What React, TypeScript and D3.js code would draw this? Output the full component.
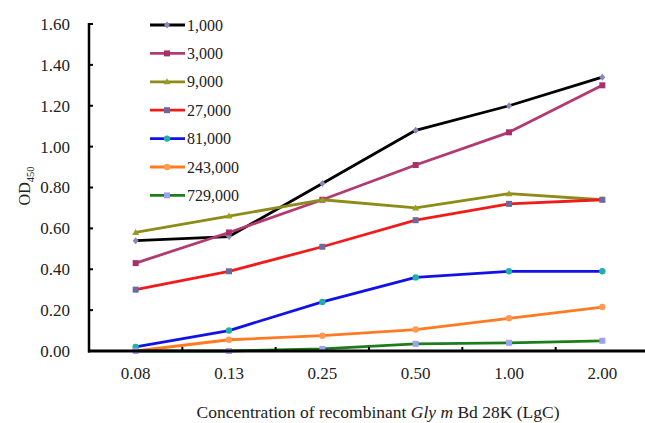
import React from "react";
import * as d3 from "d3";

const categories = ["0.08", "0.13", "0.25", "0.50", "1.00", "2.00"];
const seriesNames = ["1,000", "3,000", "9,000", "27,000", "81,000", "243,000", "729,000"];
const s1000 = [0.54, 0.56, 0.82, 1.08, 1.2, 1.34];
const s3000 = [0.43, 0.58, 0.74, 0.91, 1.07, 1.3];
const s9000 = [0.58, 0.66, 0.74, 0.7, 0.77, 0.74];
const s27000 = [0.3, 0.39, 0.51, 0.64, 0.72, 0.74];
const s81000 = [0.02, 0.1, 0.24, 0.36, 0.39, 0.39];
const s243000 = [0.0, 0.055, 0.075, 0.105, 0.16, 0.215];
const s729000 = [0.0, 0.0, 0.01, 0.035, 0.04, 0.05];
const yTicks = [0, 0.2, 0.4, 0.6, 0.8, 1.0, 1.2, 1.4, 1.6];

const seriesValues = [s1000, s3000, s9000, s27000, s81000, s243000, s729000];
const lineColors = ["#000000", "#b23a72", "#8e8c18", "#f01c1c", "#1212e6", "#ff7a22", "#1d7d1d"];
const markerColors = ["#8a88b8", "#a8306a", "#9a9a20", "#6a6a9e", "#20b0a8", "#ff9a50", "#a0a0f0"];
const markerShapes = ["diamond", "square", "triangle", "square", "circle", "circle", "square"];

const W = 645;
const H = 423;
const left = 89;
const right = 649;
const top = 24;
const bottom = 351;
const font = "'Liberation Serif', 'Times New Roman', serif";

function Marker({ shape, x, y, fill }: { shape: string; x: number; y: number; fill: string }) {
  const s = 3;
  if (shape === "square") return <rect x={x - s} y={y - s} width={2 * s} height={2 * s} fill={fill} />;
  if (shape === "circle") return <circle cx={x} cy={y} r={3.2} fill={fill} />;
  if (shape === "triangle")
    return <path d={`M${x},${y - 3.5}L${x + 3.5},${y + 2.5}L${x - 3.5},${y + 2.5}Z`} fill={fill} />;
  return <path d={`M${x},${y - 3.5}L${x + 3},${y}L${x},${y + 3.5}L${x - 3},${y}Z`} fill={fill} />;
}

export default function App() {
  const x = d3.scaleBand<string>().domain(categories).range([left, right]);
  const y = d3.scaleLinear().domain([0, 1.6]).range([bottom, top]);
  const cx = (c: string) => (x(c) as number) + x.bandwidth() / 2;
  const line = d3
    .line<number>()
    .x((_, i) => cx(categories[i]))
    .y((v) => y(v));

  const legendX = 150;
  const legendY0 = 25;
  const legendStep = 28.4;

  return (
    <svg width={W} height={H} style={{ position: "absolute", left: 0, top: 0, background: "#fff" }}>
      {seriesValues.map((vals, si) => (
        <g key={si}>
          <path d={line(vals) as string} fill="none" stroke={lineColors[si]} strokeWidth={2.8} strokeLinejoin="round" />
          {vals.map((v, i) => (
            <Marker key={i} shape={markerShapes[si]} x={cx(categories[i])} y={y(v)} fill={markerColors[si]} />
          ))}
        </g>
      ))}
      <line x1={left} y1={top - 1} x2={left} y2={bottom + 1.5} stroke="#000" strokeWidth={2.5} />
      <line x1={left - 1} y1={bottom} x2={right} y2={bottom} stroke="#000" strokeWidth={2.8} />
      {yTicks.map((t) => (
        <g key={t}>
          <line x1={left} x2={left + 4} y1={y(t)} y2={y(t)} stroke="#000" strokeWidth={2} />
          <text x={70} y={y(t)} dy="0.35em" textAnchor="end" fontFamily={font} fontSize={17} fill="#222">
            {t.toFixed(2)}
          </text>
        </g>
      ))}
      {categories.slice(1).map((c) => (
        <line key={c} x1={x(c) as number} x2={x(c) as number} y1={bottom} y2={bottom - 4} stroke="#000" strokeWidth={2} />
      ))}
      {categories.map((c) => (
        <text key={c} x={cx(c)} y={379} textAnchor="middle" fontFamily={font} fontSize={17} fill="#222">
          {c}
        </text>
      ))}
      <text x={378} y={418} textAnchor="middle" fontFamily={font} fontSize={17.5} fill="#222">
        Concentration of recombinant <tspan fontStyle="italic">Gly m</tspan> Bd 28K (LgC)
      </text>
      <text transform="translate(30,186) rotate(-90)" textAnchor="middle" fontFamily={font} fontSize={16} fill="#222">
        OD<tspan fontSize={10.5} dy={4}>450</tspan>
      </text>
      {seriesNames.map((name, si) => {
        const ly = legendY0 + si * legendStep;
        return (
          <g key={name}>
            <line x1={legendX} x2={legendX + 35} y1={ly} y2={ly} stroke={lineColors[si]} strokeWidth={2.8} />
            <Marker shape={markerShapes[si]} x={legendX + 17} y={ly} fill={markerColors[si]} />
            <text x={legendX + 37} y={ly} dy="0.35em" fontFamily={font} fontSize={16} fill="#222">
              {name}
            </text>
          </g>
        );
      })}
    </svg>
  );
}
